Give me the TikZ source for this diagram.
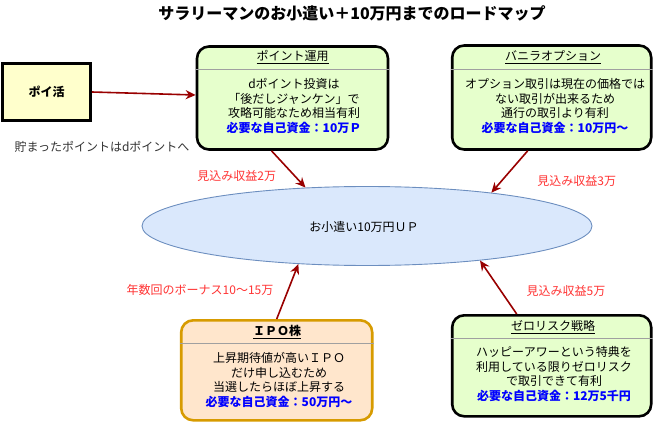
\documentclass[tikz,border=0pt]{standalone}
\usepackage{fontspec}
\setmainfont{Noto Sans CJK JP}
\usetikzlibrary{arrows.meta,shapes.geometric}
\definecolor{boxgreen}{HTML}{E6FFCC}
\definecolor{boxorange}{HTML}{FFE6CC}
\definecolor{ipoline}{HTML}{D79B00}
\definecolor{boxyellow}{HTML}{FFFFCC}
\definecolor{ellfill}{HTML}{DAE8FC}
\definecolor{elldraw}{HTML}{6C8EBF}
\definecolor{arrowred}{HTML}{990000}
\definecolor{labelred}{HTML}{FF3333}
\definecolor{needblue}{HTML}{0000FF}
\definecolor{sepgray}{HTML}{A0A0A0}
\definecolor{notegray}{HTML}{333333}
\begin{document}
\begin{tikzpicture}[x=1pt,y=-1pt,
  card/.style={draw=black,line width=2.6pt,rounded corners=12pt,fill=boxgreen,inner sep=0pt},
  ipocard/.style={card,draw=ipoline,fill=boxorange},
  sepline/.style={draw=sepgray,line width=0.9pt},
  headtxt/.style={font=\fontsize{12}{14}\selectfont,inner sep=0pt},
  bodytxt/.style={font=\fontsize{12}{14.6}\selectfont,align=center,inner sep=0pt},
  redlabel/.style={text=labelred,font=\fontsize{12}{14}\selectfont,inner sep=0pt},
  conn/.style={draw=arrowred,line width=1.6pt,-{Stealth[length=10pt,width=9pt]}},
]
\useasboundingbox (0,0) rectangle (653,422);

% title
\node[font=\fontsize{16}{18}\selectfont\bfseries,inner sep=0pt] (title) at (352,13) {サラリーマンのお小遣い＋10万円までのロードマップ};

% ポイ活
\node[draw=black,line width=2.6pt,fill=boxyellow,minimum width=88pt,minimum height=57pt,font=\fontsize{12}{14}\selectfont\bfseries] (poi) at (46.5,92) {ポイ活};
\node[text=notegray,font=\fontsize{12}{14}\selectfont,inner sep=0pt] (note) at (102,147) {貯まったポイントはdポイントへ};

% ellipse
\node[ellipse,draw=elldraw,line width=0.9pt,fill=ellfill,minimum width=450pt,minimum height=79pt,inner sep=0pt] (ell) at (367,226) {};
\node[font=\fontsize{12}{14}\selectfont,inner sep=0pt] (elltxt) at (364,227) {お小遣い10万円ＵＰ};

% ポイント運用
\node[card,minimum width=191pt,minimum height=103pt] (pu) at (292.5,98) {};
\draw[sepline] ([yshift=-24.7pt]pu.north west) -- ([yshift=-24.7pt]pu.north east);
\node[headtxt] (puh) at (292.5,57) {\underline{ポイント運用}};
\node[bodytxt] (pub) at (294,106) {dポイント投資は\\「後だしジャンケン」で\\攻略可能なため相当有利\\{\color{needblue}\bfseries 必要な自己資金：10万Ｐ}};

% バニラオプション
\node[card,minimum width=199pt,minimum height=104pt] (vn) at (551.7,97.5) {};
\draw[sepline] ([yshift=-25.5pt]vn.north west) -- ([yshift=-25.5pt]vn.north east);
\node[headtxt] (vnh) at (553,57) {\underline{バニラオプション}};
\node[bodytxt] (vnb) at (555,106) {オプション取引は現在の価格では\\ない取引が出来るため\\通行の取引より有利\\{\color{needblue}\bfseries 必要な自己資金：10万円～}};

% IPO株
\node[ipocard,minimum width=191pt,minimum height=100pt] (ipo) at (276.7,370.3) {};
\draw[sepline] ([yshift=-24pt]ipo.north west) -- ([yshift=-24pt]ipo.north east);
\node[headtxt,font=\fontsize{12}{14}\selectfont\bfseries] (ipoh) at (277,332) {\underline{ＩＰＯ株}};
\node[bodytxt] (ipob) at (279,380) {上昇期待値が高いＩＰＯ\\だけ申し込むため\\当選したらほぼ上昇する\\{\color{needblue}\bfseries 必要な自己資金：50万円～}};

% ゼロリスク戦略
\node[card,minimum width=199pt,minimum height=101pt] (zr) at (551.7,365.8) {};
\draw[sepline] ([yshift=-24pt]zr.north west) -- ([yshift=-24pt]zr.north east);
\node[headtxt] (zrh) at (553,327) {\underline{ゼロリスク戦略}};
\node[bodytxt] (zrb) at (554,374) {ハッピーアワーという特典を\\利用している限りゼロリスク\\で取引できて有利\\{\color{needblue}\bfseries 必要な自己資金：12万5千円}};

% labels
\node[redlabel] (l2) at (236.7,176) {見込み収益2万};
\node[redlabel] (l3) at (576.7,181) {見込み収益3万};
\node[redlabel] (l5) at (566,291) {見込み収益5万};
\node[redlabel] (lb) at (200,290) {年数回のボーナス10～15万};

% connectors
\draw[conn] (poi.east) -- ([yshift=3pt]pu.west);
\draw[conn] ([xshift=-21pt]pu.south) -- (ell.148);
\draw[conn] ([xshift=-24pt]vn.south) -- (ell.15);
\draw[conn] (ipo.north) -- (ell.209);
\draw[conn] ([xshift=-35pt]zr.north) -- (ell.343);
\end{tikzpicture}
\end{document}
